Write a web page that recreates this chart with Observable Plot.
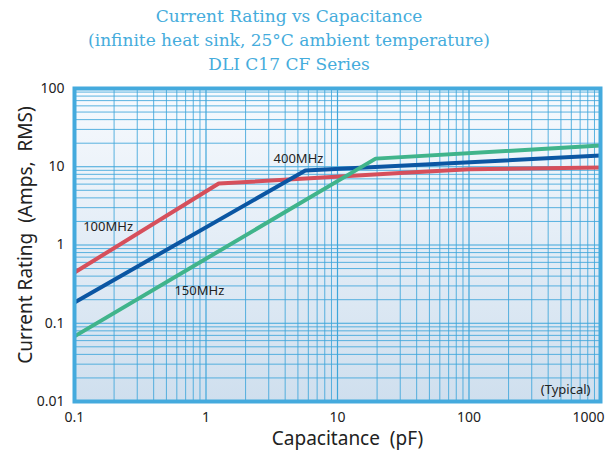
<!DOCTYPE html>
<html><head><meta charset="utf-8">
<script src="https://cdn.jsdelivr.net/npm/d3@7"></script>
<script src="https://cdn.jsdelivr.net/npm/@observablehq/plot@0.6"></script>
<style>
body{margin:0;background:#fff;}
#title{font-family:"DejaVu Serif",serif;color:#45acdc;font-size:17px;line-height:24px;text-align:center;width:606px;padding-top:4px;height:76px;padding-right:28px;box-sizing:border-box;}
</style></head><body>
<div id="title">Current Rating vs Capacitance<br>(infinite heat sink, 25°C ambient temperature)<br>DLI C17 CF Series</div>
<div id="chart"></div>
<script>
const series = ["100MHz", "400MHz", "150MHz"];
const colors = ["#d64f5b", "#0b56a3", "#40b48b"];
const cap100 = [0.1, 1.25, 30, 100, 1000];
const amp100 = [0.445, 6.1, 8.3, 9.3, 9.8];
const cap400 = [0.1, 5.7, 1000];
const amp400 = [0.184, 8.96, 13.9];
const cap150 = [0.1, 19.5, 1000];
const amp150 = [0.068, 12.7, 18.7];
const xTicks = [0.1, 1, 10, 100, 1000];
const yTicks = [0.01, 0.1, 1, 10, 100];
const labelText = ["100MHz", "400MHz", "150MHz"];
const labelCap = [0.18, 5.05, 0.89];
const labelAmp = [1.72, 12.7, 0.26];
const noteText = "(Typical)";
const xTitle = "Capacitance\u00a0\u00a0(pF)";
const yTitle = "Current Rating\u00a0\u00a0(Amps,\u00a0\u00a0RMS)";

const rows = [];
[[cap100, amp100], [cap400, amp400], [cap150, amp150]].forEach(([c, a], i) => {
  c.forEach((v, j) => rows.push({series: series[i], cap: v, amp: a[j]}));
});
const labels = labelText.map((t, i) => ({t, cap: labelCap[i], amp: labelAmp[i]}));

const minor = (lo, hi) => {
  const out = [];
  for (let d = lo; d < hi; d *= 10) for (let k = 2; k <= 9; k++) out.push(+(d * k).toPrecision(3));
  return out;
};
const xMinor = minor(0.1, 1000);
const yMinor = minor(0.01, 100);

const gridColor = "#3ea6da";
const fmt = d => String(d);
const chart = Plot.plot({
  width: 606,
  height: 376,
  marginLeft: 74,
  marginRight: 6,
  marginTop: 12,
  marginBottom: 51,
  style: {fontFamily: "'Noto Sans', sans-serif", fontSize: "14px", color: "#222", background: "transparent"},
  x: {type: "log", domain: [0.1, 1000]},
  y: {type: "log", domain: [0.01, 100]},
  color: {domain: series, range: colors},
  marks: [
    Plot.frame({fill: "url(#bgGrad)"}),
    Plot.ruleX(xMinor, {stroke: gridColor, strokeWidth: 1, strokeOpacity: 0.85}),
    Plot.ruleY(yMinor, {stroke: gridColor, strokeWidth: 1, strokeOpacity: 0.85}),
    Plot.ruleX(xTicks, {stroke: gridColor, strokeWidth: 1.2}),
    Plot.ruleY(yTicks, {stroke: gridColor, strokeWidth: 1.2}),
    Plot.line(rows, {x: "cap", y: "amp", z: "series", stroke: "series", strokeWidth: 4, strokeLinejoin: "miter", strokeLinecap: "butt"}),
    Plot.text(labels, {x: "cap", y: "amp", text: "t", fontSize: 13, fill: "#222"}),
    Plot.text([noteText], {x: 1000, y: 0.0142, text: d => d, textAnchor: "end", dx: -10, fontSize: 13, fill: "#222"}),
    Plot.frame({stroke: "#44aadd", strokeWidth: 4}),
    Plot.axisX(xTicks.slice(0, 4), {tickSize: 0, tickPadding: 11, tickFormat: fmt, label: null, fill: "#222"}),
    Plot.axisX(xTicks.slice(4), {tickSize: 0, tickPadding: 11, tickFormat: fmt, label: null, textAnchor: "end", dx: 4, fill: "#222"}),
    Plot.axisY(yTicks, {tickSize: 0, tickPadding: 10, tickFormat: fmt, label: null, fill: "#222"}),
    Plot.text([xTitle], {frameAnchor: "bottom", text: d => d, textAnchor: "middle", dy: 43, dx: 10, fontSize: 19, fill: "#222"}),
    Plot.text([yTitle], {frameAnchor: "left", text: d => d, textAnchor: "middle", rotate: -90, dx: -49, dy: -10, fontSize: 19, fill: "#222"})
  ]
});
const svg = d3.select(chart);
const defs = svg.insert("defs", ":first-child");
const g = defs.append("linearGradient").attr("id", "bgGrad").attr("x1", 0).attr("y1", 0).attr("x2", 0).attr("y2", 1);
g.append("stop").attr("offset", "0%").attr("stop-color", "#f7fafe");
g.append("stop").attr("offset", "100%").attr("stop-color", "#cfdfee");
document.getElementById("chart").appendChild(chart);
</script>
</body></html>
